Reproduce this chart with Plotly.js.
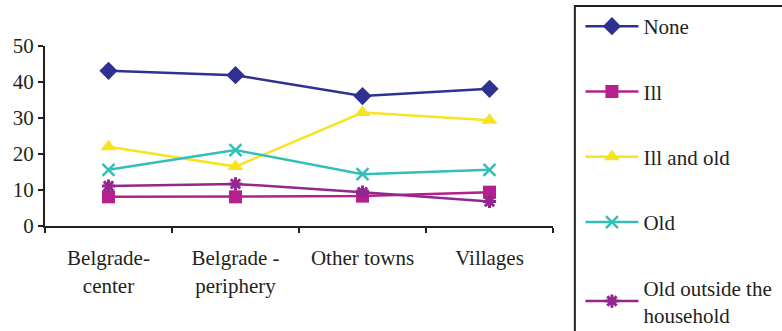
<!DOCTYPE html>
<html>
<head>
<meta charset="utf-8">
<script src="https://cdn.plot.ly/plotly-3.0.1.min.js"></script>
<style>
  html, body { margin: 0; padding: 0; background: #fff; }
  #chart { width: 782px; height: 331px; }
</style>
</head>
<body>
<div id="chart"></div>
<script>
// Settlement types along the x axis
const categories = ["Belgrade-<br>center", "Belgrade -<br>periphery", "Other towns", "Villages"];

// Share (%) per settlement type for each household group
const noneValues = [43.1, 41.9, 36.1, 38.1];
const illValues = [8.1, 8.1, 8.3, 9.4];
const illOldValues = [22.0, 16.5, 31.5, 29.4];
const oldValues = [15.6, 21.1, 14.4, 15.6];
const oldOutsideValues = [11.1, 11.7, 9.4, 6.8];

const seriesNames = ["None", "Ill", "Ill and old", "Old", "Old outside the<br>household"];
const yTicks = [0, 10, 20, 30, 40, 50];

const FONT = "Liberation Serif, Times New Roman, serif";
const INK = "#231F20";

function series(name, values, color, symbol, size, lw) {
  return {
    type: "scatter",
    mode: "lines+markers",
    name: name,
    legendgroup: name,
    x: categories,
    y: values,
    line: { color: color, width: 2.5 },
    marker: { color: color, symbol: symbol, size: size,
              line: { color: color, width: lw } },
    cliponaxis: false
  };
}

const traces = [
  series(seriesNames[0], noneValues, "#2E3192", "diamond", 14, 0),
  series(seriesNames[1], illValues, "#B5208C", "square", 13, 0),
  series(seriesNames[2], illOldValues, "#F5E41E", "triangle-up", 14, 0),
  series(seriesNames[3], oldValues, "#33BFB7", "x-thin-open", 12, 2.5),
  series(seriesNames[4], oldOutsideValues, "#93278F", "asterisk-open", 11, 3)
];

const layout = {
  width: 782,
  height: 331,
  margin: { l: 45, r: 229, t: 46, b: 105, autoexpand: false },
  paper_bgcolor: "#fff",
  plot_bgcolor: "#fff",
  font: { family: FONT, size: 21, color: INK },
  showlegend: true,
  legend: {
    x: 1.054, xanchor: "left",
    y: 1.222, yanchor: "top",
    bgcolor: "rgba(0,0,0,0)",
    borderwidth: 0,
    font: { family: FONT, size: 21, color: INK },
    tracegroupgap: 35,
    itemwidth: 53,
    maxheight: 500,
    itemclick: false
  },
  xaxis: {
    type: "category",
    showgrid: false,
    zeroline: false,
    showline: true,
    linecolor: INK,
    linewidth: 2,
    ticks: "outside",
    tickson: "boundaries",
    ticklen: 5,
    tickwidth: 2,
    tickcolor: INK,
    ticklabelstandoff: 12,
    tickfont: { family: FONT, size: 21, color: INK },
    range: [-0.5, 3.5]
  },
  yaxis: {
    range: [0, 50],
    tickvals: yTicks,
    ticktext: yTicks.map(String),
    showgrid: false,
    zeroline: false,
    showline: true,
    linecolor: INK,
    linewidth: 2,
    ticks: "outside",
    ticklen: 5,
    tickwidth: 2,
    tickcolor: INK,
    tickfont: { family: FONT, size: 21, color: INK }
  },
  shapes: [
    // legend frame, running past the right and bottom edges
    { type: "rect", xref: "paper", yref: "paper",
      x0: 1.043, x1: 1.5, y0: 1.222, y1: -0.7,
      line: { color: INK, width: 2 }, fillcolor: "rgba(0,0,0,0)", layer: "below" }
  ]
};

Plotly.newPlot("chart", traces, layout, { staticPlot: true, displayModeBar: false });
</script>
</body>
</html>
